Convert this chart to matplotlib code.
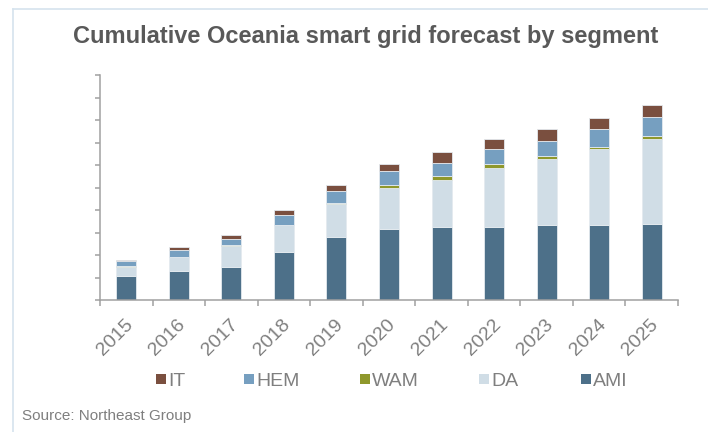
import matplotlib
matplotlib.use("Agg")
import matplotlib.pyplot as plt
from matplotlib.patches import Rectangle
from matplotlib.transforms import ScaledTranslation
import numpy as np

plt.rcParams['font.family'] = ['Liberation Sans', 'DejaVu Sans']

years = ['2015', '2016', '2017', '2018', '2019', '2020', '2021', '2022', '2023', '2024', '2025']
ami = [1.07, 1.30, 1.45, 2.12, 2.80, 3.17, 3.26, 3.26, 3.32, 3.32, 3.39]
da = [0.38, 0.61, 0.95, 1.21, 1.45, 1.81, 2.09, 2.62, 2.93, 3.38, 3.76]
wam = [0.08, 0.02, 0.04, 0.02, 0.06, 0.15, 0.15, 0.15, 0.16, 0.09, 0.15]
hem = [0.19, 0.30, 0.28, 0.44, 0.52, 0.59, 0.61, 0.68, 0.67, 0.81, 0.83]
it = [0.05, 0.13, 0.15, 0.21, 0.30, 0.31, 0.46, 0.43, 0.52, 0.50, 0.52]

series = [('AMI', ami, '#4d7089'), ('DA', da, '#d0dde6'), ('WAM', wam, '#8f982c'),
          ('HEM', hem, '#769fc0'), ('IT', it, '#7a4f3f')]
legend_order = ['IT', 'HEM', 'WAM', 'DA', 'AMI']
legend_x = [156, 244, 360, 479, 581]  # pixel positions of legend markers

W, H = 708, 432
fig = plt.figure(figsize=(W / 100, H / 100), dpi=100)
ax = fig.add_axes([100 / W, 1 - 300 / H, 578 / W, 225 / H])

x = np.arange(len(years))
bottom = np.zeros(len(years))
for name, vals, col in series:
    ax.bar(x, vals, width=0.38, bottom=bottom, color=col, edgecolor='#e4eaef', linewidth=0.6)
    bottom += np.array(vals)

ax.set_xlim(-0.5, len(years) - 0.5)
ax.set_ylim(0, 10)
ax.set_yticks(np.arange(0, 11, 1))
ax.set_yticklabels([])
ax.set_xticks(np.arange(-0.5, len(years), 1))
ax.set_xticklabels([])
ax.tick_params(axis='x', length=4, width=1.1, color='#a0a0a0', direction='out')
ax.tick_params(axis='y', length=3.5, width=1.1, color='#a0a0a0', direction='out')
for s in ['top', 'right']:
    ax.spines[s].set_visible(False)
for s in ['left', 'bottom']:
    ax.spines[s].set_color('#a0a0a0')
    ax.spines[s].set_linewidth(1.1)

# category labels, rotated 45 degrees
lab_tr = ax.get_xaxis_transform() + ScaledTranslation(4 / 100, -22 / 100, fig.dpi_scale_trans)
for xi, yr in zip(x, years):
    ax.text(xi, 0, yr, transform=lab_tr, rotation=45, ha='right', va='center',
            rotation_mode='anchor', fontsize=14, color='#7f7f7f')

fig.text(366 / W, 1 - 37 / H, 'Cumulative Oceania smart grid forecast by segment',
         ha='center', va='center', fontsize=17, fontweight='bold', color='#595959')

colors = {n: c for n, _, c in series}
for name, px in zip(legend_order, legend_x):
    fig.patches.append(Rectangle((px / W, 1 - 384 / H), 10 / W, 10 / H,
                                 transform=fig.transFigure, facecolor=colors[name],
                                 edgecolor='none'))
    fig.text((px + 12) / W, 1 - 382 / H, name, ha='left', va='center',
             fontsize=14, color='#7f7f7f')

fig.text(22 / W, 1 - 416 / H, 'Source: Northeast Group', ha='left', va='center',
         fontsize=11, color='#7f7f7f')

# light frame
fig.add_artist(plt.Line2D([13 / W, 13 / W], [0, 1 - 9 / H], transform=fig.transFigure,
                          color='#d5e3ee', linewidth=1.2))
fig.add_artist(plt.Line2D([13 / W, 1], [1 - 9 / H, 1 - 9 / H], transform=fig.transFigure,
                          color='#d5e3ee', linewidth=1.2))

fig.savefig('out.png', dpi=100)
